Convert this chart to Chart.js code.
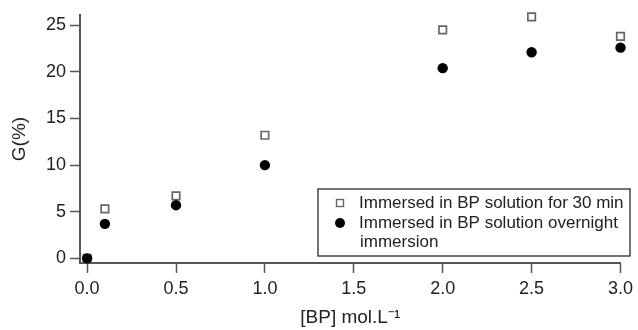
<!DOCTYPE html>
<html>
<head>
<meta charset="utf-8">
<script src="https://cdn.jsdelivr.net/npm/chart.js@4"></script>
<style>
  html, body { margin: 0; padding: 0; background: #fff; }
  #wrap { width: 638px; height: 330px; }
</style>
</head>
<body>
<div id="wrap"><canvas id="c"></canvas></div>
<script>
// concentration of BP (mol/L)
const conc = [0, 0.1, 0.5, 1.0, 2.0, 2.5, 3.0];
const g30min = [0, 5.3, 6.7, 13.2, 24.5, 25.9, 23.8];
const gOvernight = [0, 3.7, 5.7, 10.0, 20.4, 22.1, 22.6];
const xTicks = [0, 0.5, 1.0, 1.5, 2.0, 2.5, 3.0];
const yTicks = [0, 5, 10, 15, 20, 25];
const seriesNames = ['Immersed in BP solution for 30 min', 'Immersed in BP solution overnight', 'immersion'];

const axisColor = '#555';
const textColor = '#222';
const font = 'Arial, "Liberation Sans", Helvetica, sans-serif';

function toPoints(xs, ys) {
  return xs.map((x, i) => ({ x: x, y: ys[i] }));
}

// legend box drawn inside the plot, like the original figure
const boxLegend = {
  id: 'boxLegend',
  afterDraw(chart) {
    const ctx = chart.ctx;
    ctx.save();
    ctx.strokeStyle = '#444';
    ctx.lineWidth = 1.5;
    ctx.strokeRect(318, 189, 312, 67);
    ctx.font = '17px ' + font;
    ctx.fillStyle = textColor;
    ctx.textBaseline = 'middle';
    ctx.fillText(seriesNames[0], 359, 203);
    ctx.fillText(seriesNames[1], 359, 223);
    ctx.fillText(seriesNames[2], 360, 242);
    // markers
    ctx.strokeStyle = '#666';
    ctx.lineWidth = 1.4;
    ctx.strokeRect(336.5, 199.5, 7, 7);
    ctx.fillStyle = '#000';
    ctx.beginPath();
    ctx.arc(340, 223, 5, 0, Math.PI * 2);
    ctx.fill();
    ctx.restore();
  }
};

const data = {
  datasets: [{
    label: seriesNames[0],
    data: toPoints(conc, g30min),
    pointStyle: 'rect',
    pointRadius: 5.3,
    borderColor: '#666',
    backgroundColor: '#fff',
    borderWidth: 1.7,
    showLine: false,
    clip: false,
    order: 2
  }, {
    label: seriesNames[1] + ' ' + seriesNames[2],
    data: toPoints(conc, gOvernight),
    pointStyle: 'circle',
    pointRadius: 5.2,
    borderColor: '#000',
    backgroundColor: '#000',
    borderWidth: 0,
    showLine: false,
    clip: false,
    order: 1
  }]
};

const config = {
  type: 'scatter',
  data: data,
  options: {
    responsive: true,
    maintainAspectRatio: false,
    animation: false,
    layout: { padding: { top: 15, right: 16, left: 0, bottom: 0 } },
    plugins: {
      legend: { display: false },
      tooltip: { enabled: false }
    },
    scales: {
      x: {
        type: 'linear',
        min: -0.04,
        max: 3.0,
        afterBuildTicks: (s) => { s.ticks = xTicks.map(v => ({ value: v })); },
        afterFit: (s) => { s.height = 67; },
        grid: { drawOnChartArea: false, tickLength: 10, tickWidth: 1.5, tickColor: axisColor },
        border: { color: axisColor, width: 2 },
        ticks: {
          color: textColor,
          font: { size: 18, family: font },
          padding: 5,
          maxRotation: 0,
          callback: (v) => Number(v).toFixed(1)
        },
        title: {
          display: true,
          text: '[BP] mol.L\u207B\u00B9',
          color: textColor,
          font: { size: 19, family: font },
          padding: { top: 0, bottom: 1 }
        }
      },
      y: {
        type: 'linear',
        min: -0.5,
        max: 26.1,
        afterBuildTicks: (s) => { s.ticks = yTicks.map(v => ({ value: v })); },
        afterFit: (s) => { s.width = 80; },
        grid: { drawOnChartArea: false, tickLength: 10, tickWidth: 1.5, tickColor: axisColor },
        border: { color: axisColor, width: 2 },
        ticks: {
          color: textColor,
          font: { size: 18, family: font },
          padding: 4
        },
        title: {
          display: true,
          text: 'G(%)',
          color: textColor,
          font: { size: 19, family: font },
          padding: { top: 8, bottom: 0 }
        }
      }
    }
  },
  plugins: [boxLegend]
};

let c = document.getElementById('c').getContext('2d');
new Chart(c, config);
</script>
</body>
</html>
